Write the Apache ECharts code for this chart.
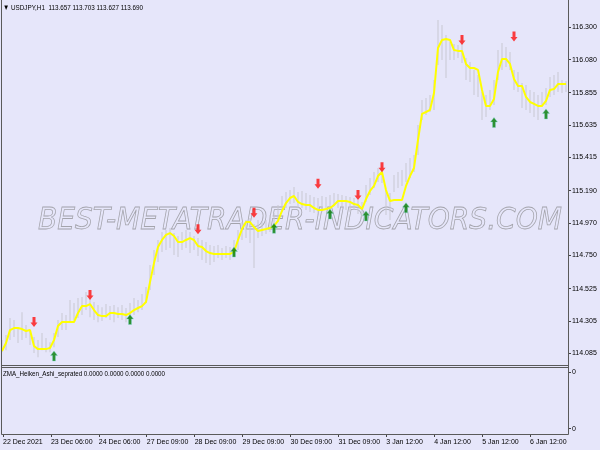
<!DOCTYPE html>
<html><head><meta charset="utf-8">
<script src="https://cdn.jsdelivr.net/npm/echarts@6/dist/echarts.min.js"></script>
<style>html,body{margin:0;padding:0;background:#e6e6fa}#c{width:600px;height:450px}</style>
</head><body><div id="c"></div>
<script>
const tickLabels = ['22 Dec 2021','23 Dec 06:00','24 Dec 06:00','27 Dec 09:00','28 Dec 09:00','29 Dec 09:00','30 Dec 09:00','31 Dec 09:00','3 Jan 12:00','4 Jan 12:00','5 Jan 12:00','6 Jan 12:00'];
const priceTicks = [114.085,114.305,114.525,114.750,114.970,115.190,115.415,115.635,115.855,116.080,116.300];
const lineValues = [
114.101,114.155,114.243,114.257,114.257,114.250,114.237,114.243,114.135,114.114,
114.114,114.114,114.121,114.175,114.271,114.298,114.298,114.298,114.298,114.359,
114.406,114.406,114.420,114.379,114.345,114.338,114.338,114.359,114.359,114.352,
114.352,114.345,114.359,114.379,114.393,114.406,114.434,114.569,114.698,114.807,
114.855,114.889,114.902,114.882,114.841,114.841,114.855,114.868,114.855,114.814,
114.807,114.780,114.766,114.760,114.760,114.760,114.760,114.760,114.773,114.855,
114.929,114.977,114.977,114.943,114.916,114.923,114.929,114.936,114.950,114.984,
115.052,115.106,115.140,115.154,115.113,115.099,115.092,115.092,115.072,115.059,
115.059,115.065,115.072,115.092,115.120,115.120,115.120,115.113,115.099,115.092,
115.065,115.133,115.188,115.222,115.289,115.317,115.194,115.120,115.126,115.126,
115.126,115.222,115.289,115.344,115.534,115.711,115.724,115.738,115.853,116.159,
116.213,116.220,116.213,116.145,116.139,116.139,116.050,116.023,116.023,116.010,
115.874,115.765,115.765,115.813,115.996,116.084,116.084,116.050,115.948,115.901,
115.901,115.826,115.792,115.779,115.765,115.765,115.799,115.874,115.880,115.914,
115.914,115.914];
const highs = [
114.175,114.209,114.325,114.311,114.263,114.365,114.277,114.243,114.196,114.175,
114.223,114.189,114.161,114.223,114.311,114.359,114.345,114.447,114.427,114.461,
114.467,114.501,114.481,114.433,114.413,114.399,114.420,114.406,114.413,114.399,
114.413,114.393,114.427,114.461,114.447,114.488,114.535,114.685,114.787,114.855,
114.909,114.923,114.937,114.903,114.882,114.909,114.923,114.909,114.882,114.869,
114.855,114.841,114.821,114.814,114.821,114.801,114.814,114.807,114.855,114.923,
114.977,114.991,115.004,114.963,114.991,114.977,114.991,115.024,115.038,115.092,
115.153,115.181,115.194,115.215,115.181,115.188,115.174,115.160,115.147,115.140,
115.153,115.147,115.160,115.174,115.167,115.160,115.153,115.147,115.140,115.126,
115.113,115.228,115.276,115.317,115.344,115.357,115.194,115.174,115.296,115.317,
115.330,115.378,115.412,115.432,115.636,115.806,115.819,115.840,115.942,116.349,
116.315,116.247,116.200,116.186,116.179,116.234,116.091,116.064,116.010,115.976,
115.860,115.840,115.874,115.942,116.145,116.193,116.166,116.132,116.010,115.996,
115.921,115.908,115.874,115.860,115.840,115.860,115.887,115.962,115.976,115.996,
115.942,115.935];
const lows = [
114.093,114.107,114.175,114.196,114.155,114.175,114.189,114.141,114.087,114.059,
114.107,114.093,114.093,114.127,114.196,114.243,114.243,114.291,114.311,114.325,
114.345,114.379,114.331,114.311,114.297,114.304,114.325,114.311,114.297,114.325,
114.311,114.297,114.325,114.345,114.365,114.379,114.427,114.515,114.617,114.705,
114.773,114.787,114.801,114.753,114.739,114.787,114.801,114.767,114.787,114.746,
114.719,114.699,114.685,114.705,114.733,114.719,114.733,114.719,114.746,114.787,
114.855,114.869,114.834,114.665,114.869,114.882,114.896,114.909,114.923,114.977,
115.045,115.072,115.099,115.106,115.072,115.072,115.058,115.045,115.038,115.024,
115.045,115.058,115.058,115.086,115.072,115.079,115.058,115.045,115.058,115.031,
115.011,115.113,115.160,115.208,115.249,115.242,115.024,114.991,115.181,115.208,
115.222,115.249,115.276,115.317,115.432,115.670,115.704,115.724,115.738,116.043,
116.077,115.955,116.077,116.077,116.091,116.057,115.942,115.928,115.840,115.826,
115.670,115.690,115.738,115.772,115.942,116.010,116.030,116.010,115.874,115.860,
115.751,115.738,115.717,115.690,115.670,115.758,115.772,115.826,115.840,115.860,
115.853,115.860];
const downArrows = [[8,114.298],[22,114.481],[49,114.927],[63,115.040],[79,115.237],[89,115.160],[95,115.349],[115,116.213],[128,116.236]];
const upArrows = [[13,114.067],[32,114.315],[58,114.773],[68,114.934],[82,115.031],[91,115.018],[101,115.074],[123,115.653],[136,115.711]];
const categories = lineValues.map((_, i) => String(i));

const FONT = "'Liberation Sans',Arial,sans-serif";
const HEADER = '\u25BC USDJPY,H1  113.657 113.703 113.627 113.690';
const INDI = 'ZMA_Heiken_Ashi_seprated 0.0000 0.0000 0.0000 0.0000';
const WM = 'BEST-METATRADER-INDICATORS.COM';
const cv = document.createElement('canvas').getContext('2d');
function fitScale(text, font, target) { cv.font = font; return target / cv.measureText(text).width; }
const WMFONT = 'italic 30px "DejaVu Sans"';
const SMALLFONT = '8px "Liberation Sans"';
const wmScale = fitScale(WM, WMFONT, 524);
const hdrScale = fitScale(HEADER, SMALLFONT, 140);
const indScale = fitScale(INDI, SMALLFONT, 162);

const chart = echarts.init(document.getElementById('c'), null, {renderer: 'canvas'});
const frame = '#5a5a5a';
const labelEvery = (i) => i % 12 === 0;
chart.setOption({
  backgroundColor: '#e6e6fa',
  animation: false,
  grid: [
    {left: 2, right: 34, top: 2, height: 363, show: false},
    {left: 2, right: 34, top: 367, height: 67, show: false}
  ],
  xAxis: [
    {gridIndex: 0, type: 'category', data: categories, boundaryGap: false, show: false},
    {gridIndex: 1, type: 'category', data: categories, boundaryGap: false,
     axisLine: {show: false},
     axisTick: {show: true, interval: labelEvery, length: 3, lineStyle: {color: '#444'}},
     axisLabel: {interval: labelEvery, formatter: (v, i) => tickLabels[i / 12], align: 'left',
       margin: 5, fontSize: 7, color: '#000', fontFamily: FONT, hideOverlap: false}}
  ],
  yAxis: [
    {gridIndex: 0, type: 'value', position: 'right', offset: 2, min: 114.006, max: 116.471, scale: true,
     axisLine: {show: false}, splitLine: {show: false},
     axisTick: {show: true, length: 3, customValues: priceTicks, lineStyle: {color: '#444'}},
     axisLabel: {customValues: priceTicks, formatter: (v) => v.toFixed(3), margin: 4, fontSize: 7,
       color: '#000', fontFamily: FONT}},
    {gridIndex: 1, type: 'value', position: 'right', offset: 2, min: 0, max: 1,
     axisLine: {show: false}, splitLine: {show: false},
     axisTick: {show: true, length: 3, customValues: [0.08, 0.92], lineStyle: {color: '#444'}},
     axisLabel: {customValues: [0.08, 0.92], formatter: () => '0', margin: 4, fontSize: 7,
       color: '#000', fontFamily: FONT}}
  ],
  graphic: [
    {type: 'text', x: 38, y: 221, scaleX: wmScale, z: 0, silent: true,
     style: {text: WM, font: WMFONT, fill: 'rgba(0,0,0,0)', stroke: '#a4a4ac',
       lineWidth: 0.8, textVerticalAlign: 'middle', textAlign: 'left'}},
    {type: 'text', x: 3, y: 8, scaleX: hdrScale, z: 10, silent: true,
     style: {text: HEADER, font: SMALLFONT, fill: '#000', textVerticalAlign: 'middle', textAlign: 'left'}},
    {type: 'text', x: 3, y: 374, scaleX: indScale, z: 10, silent: true,
     style: {text: INDI, font: SMALLFONT, fill: '#000', textVerticalAlign: 'middle', textAlign: 'left'}},
    {type: 'polyline', z: 10, silent: true, shape: {points: [[1.5, 0], [1.5, 434.5], [568.5, 434.5], [568.5, 0]]},
     style: {stroke: frame, lineWidth: 1, fill: null}},
    {type: 'line', z: 10, silent: true, shape: {x1: 1.5, y1: 365.5, x2: 568.5, y2: 365.5}, style: {stroke: frame, lineWidth: 1}},
    {type: 'line', z: 10, silent: true, shape: {x1: 1.5, y1: 367.5, x2: 568.5, y2: 367.5}, style: {stroke: frame, lineWidth: 1}}
  ],
  series: [
    {type: 'candlestick', xAxisIndex: 0, yAxisIndex: 0, barWidth: 2, z: 2,
     data: lows.map((l, i) => [l, highs[i], l, highs[i]]),
     itemStyle: {color: '#c8c8d2', color0: '#c8c8d2', borderColor: '#c8c8d2', borderColor0: '#c8c8d2', borderWidth: 0}},
    {type: 'line', xAxisIndex: 0, yAxisIndex: 0, data: lineValues, showSymbol: false, z: 3,
     lineStyle: {color: '#ffff00', width: 2}},
    {type: 'scatter', xAxisIndex: 0, yAxisIndex: 0, data: downArrows, z: 4,
     symbol: 'path://M3.5,10 L7,5.5 L5,5.5 L5,0 L2,0 L2,5.5 L0,5.5 Z', symbolSize: [7, 10],
     itemStyle: {color: '#ff1010'}},
    {type: 'scatter', xAxisIndex: 0, yAxisIndex: 0, data: upArrows, z: 4,
     symbol: 'path://M3.5,0 L7,4.5 L5,4.5 L5,10 L2,10 L2,4.5 L0,4.5 Z', symbolSize: [7, 10],
     itemStyle: {color: '#007a00', borderColor: '#7fd8d0', borderWidth: 0.5}}
  ]
});
</script></body></html>
